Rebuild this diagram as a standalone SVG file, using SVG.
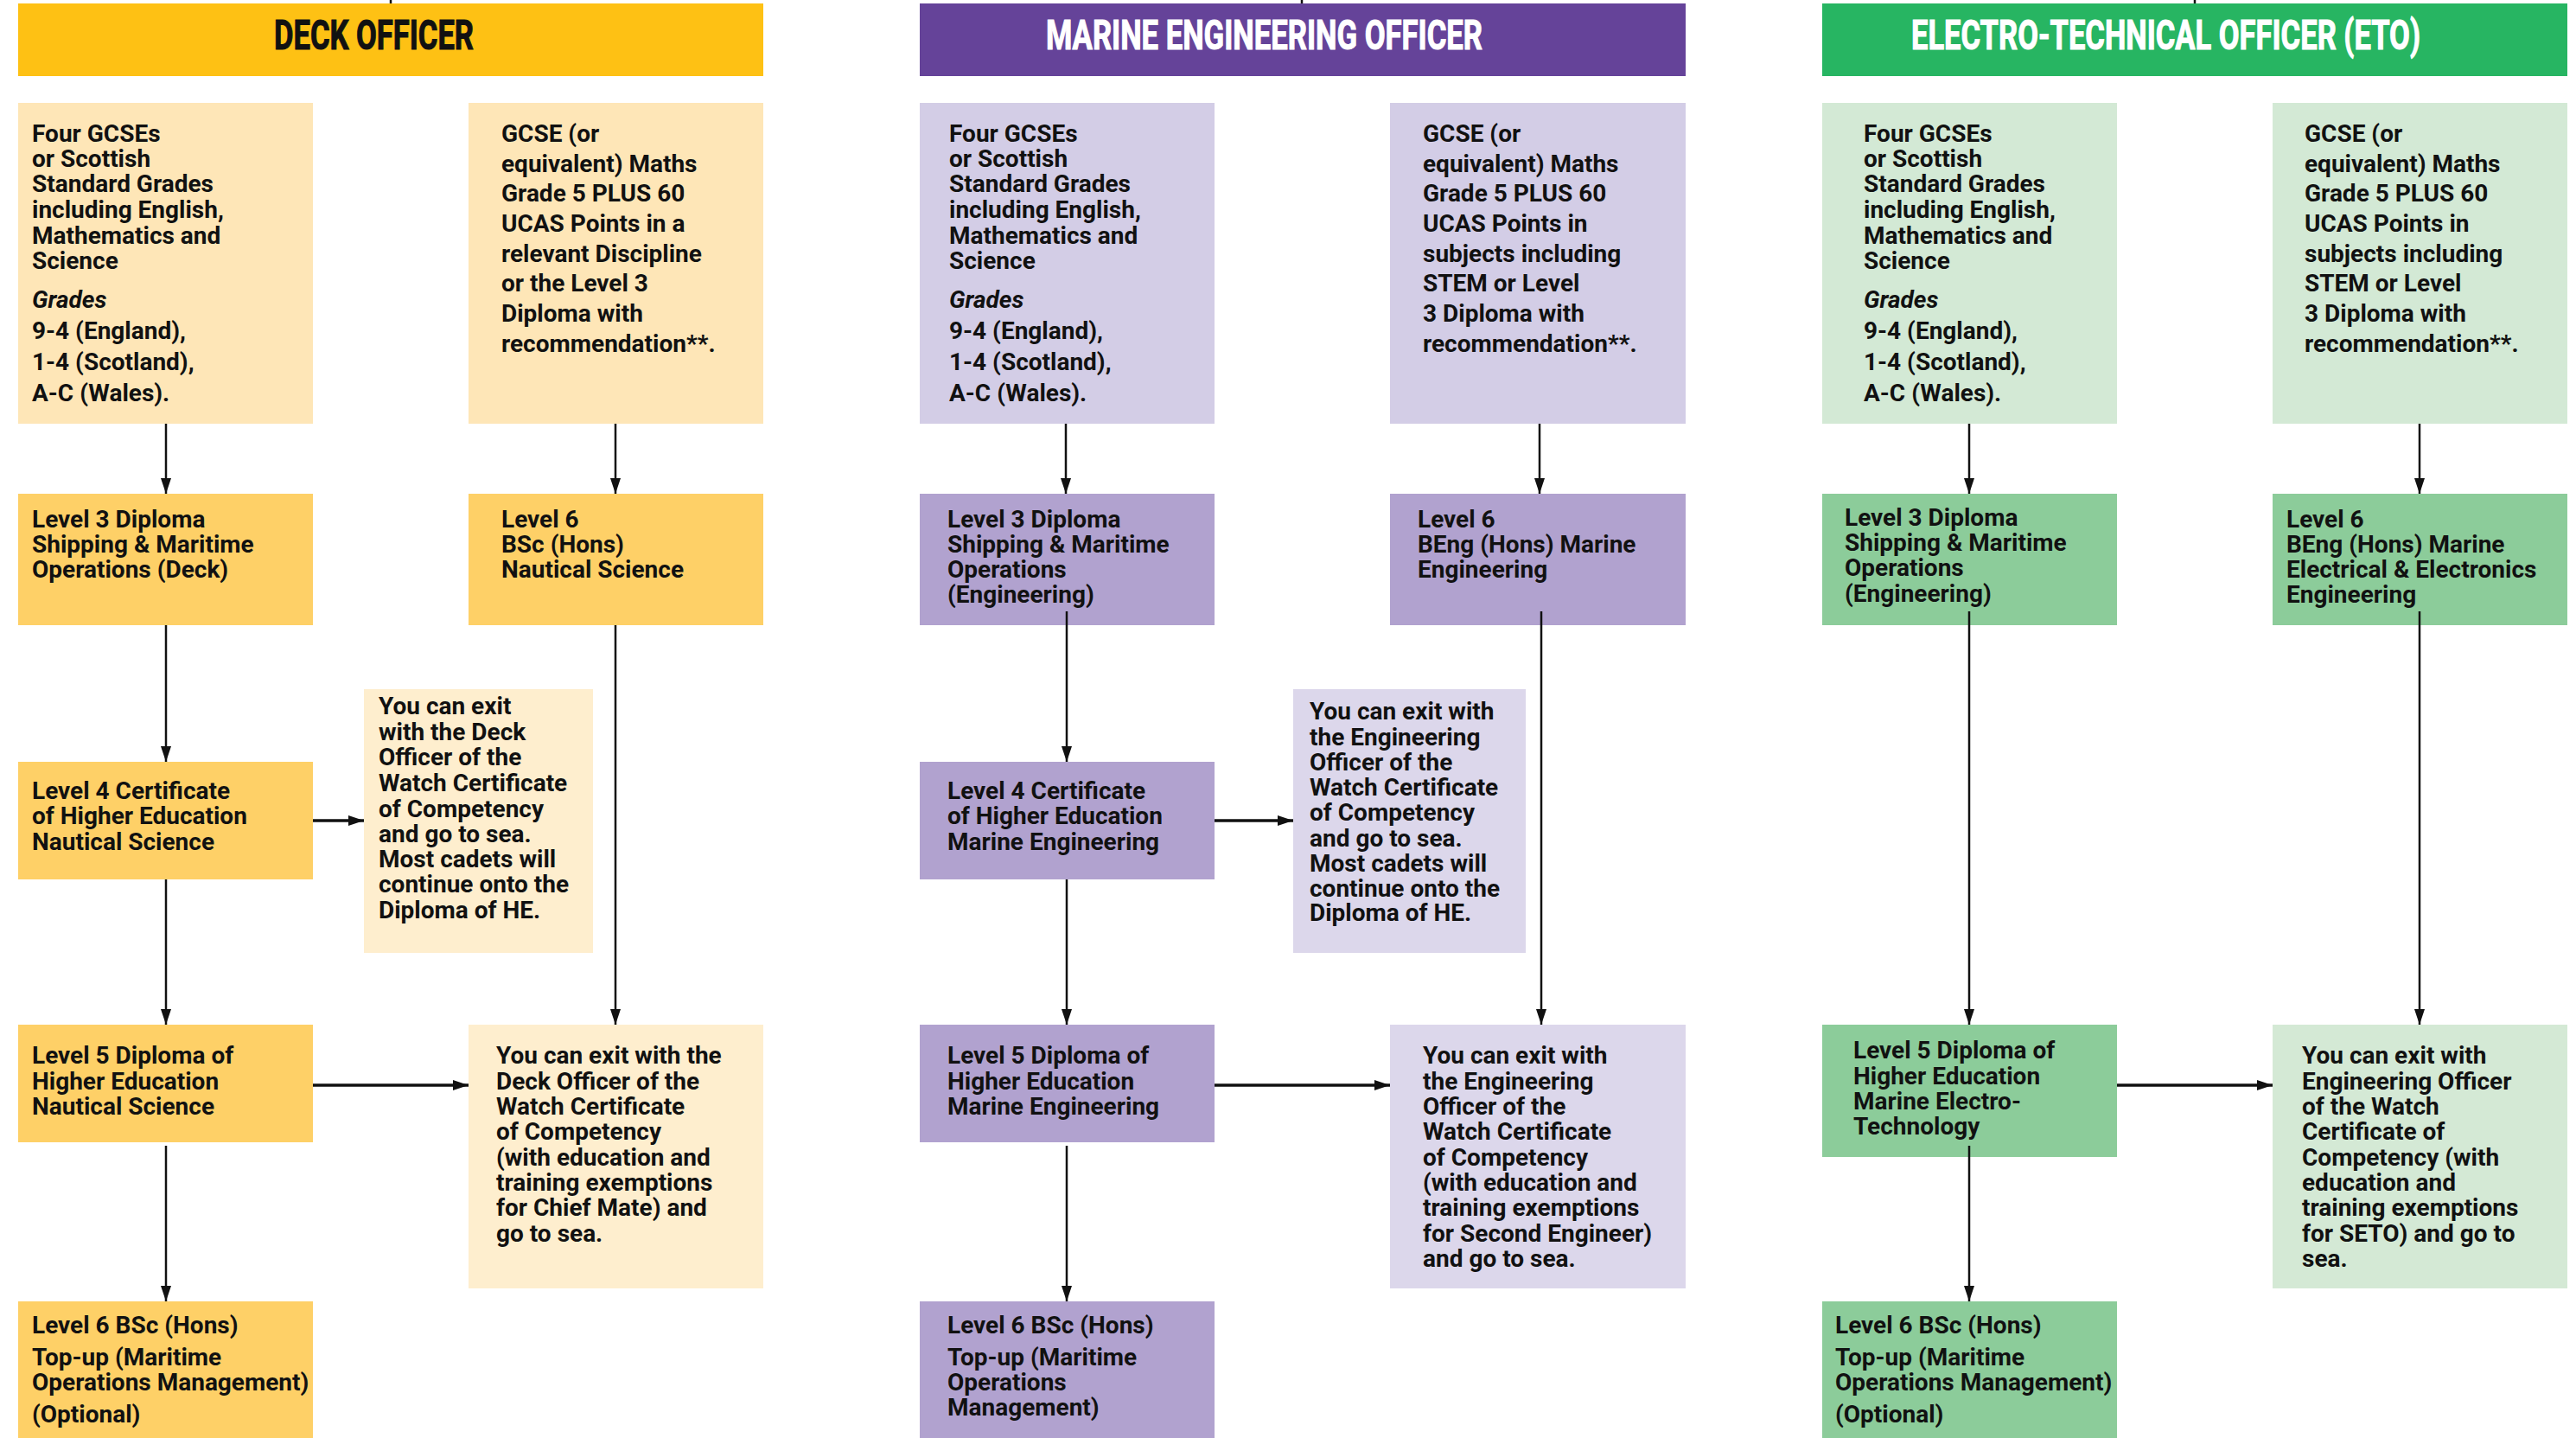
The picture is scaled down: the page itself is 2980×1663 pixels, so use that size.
<svg xmlns="http://www.w3.org/2000/svg" width="2980" height="1663" viewBox="0 0 2980 1663">
<style>
text{font-family:Roboto,"Liberation Sans",sans-serif;font-weight:700;font-size:28px;fill:#111}
.hd{font-size:30px;stroke:#111;stroke-width:0.7}
.hw{fill:#fff;stroke:#fff}
.it{font-style:italic}
.ln{stroke:#111;stroke-width:2.5;fill:none}
.lh{stroke:#111;stroke-width:3.5;fill:none}
.dH{fill:#FEC114}.dR{fill:#FEE6B7}.dL{fill:#FED067}.dE{fill:#FEEECE}
.mH{fill:#654399}.mR{fill:#D3CDE6}.mL{fill:#B1A2CF}.mE{fill:#DCD7EB}
.eH{fill:#27B562}.eR{fill:#D3E9D5}.eL{fill:#8CCC9A}.eE{fill:#D4E9D5}
</style>
<defs>
<marker id="ah" markerUnits="userSpaceOnUse" markerWidth="18" markerHeight="12" refX="18" refY="6" orient="auto">
<path d="M0,0 L18,6 L0,12 z" fill="#111"/>
</marker>
</defs>
<rect width="2980" height="1663" fill="#fff"/>

<!-- DECK OFFICER -->
<g id="deck-header"><rect class="dH" x="21" y="4" width="862" height="84"/><text class="hd" x="0" y="0" transform="translate(317,57) scale(1,1.6)" textLength="231" lengthAdjust="spacingAndGlyphs">DECK OFFICER</text></g>
<g id="deck-req1"><rect class="dR" x="21" y="119" width="341" height="371"/>
<text><tspan x="37" y="164">Four GCSEs</tspan><tspan x="37" y="193">or Scottish</tspan><tspan x="37" y="222">Standard Grades</tspan><tspan x="37" y="252">including English,</tspan><tspan x="37" y="282">Mathematics and</tspan><tspan x="37" y="311">Science</tspan><tspan x="37" y="356" class="it">Grades</tspan><tspan x="37" y="392">9-4 (England),</tspan><tspan x="37" y="428">1-4 (Scotland),</tspan><tspan x="37" y="464">A-C (Wales).</tspan></text></g>
<g id="deck-req2"><rect class="dR" x="542" y="119" width="341" height="371"/>
<text><tspan x="580" y="164">GCSE (or</tspan><tspan x="580" y="199">equivalent) Maths</tspan><tspan x="580" y="233">Grade 5 PLUS 60</tspan><tspan x="580" y="268">UCAS Points in a</tspan><tspan x="580" y="303">relevant Discipline</tspan><tspan x="580" y="337">or the Level 3</tspan><tspan x="580" y="372">Diploma with</tspan><tspan x="580" y="407">recommendation**.</tspan></text></g>
<g id="deck-l3"><rect class="dL" x="21" y="571" width="341" height="152"/>
<text><tspan x="37" y="610">Level 3 Diploma</tspan><tspan x="37" y="639">Shipping &amp; Maritime</tspan><tspan x="37" y="668">Operations (Deck)</tspan></text></g>
<g id="deck-l6"><rect class="dL" x="542" y="571" width="341" height="152"/>
<text><tspan x="580" y="610">Level 6</tspan><tspan x="580" y="639">BSc (Hons)</tspan><tspan x="580" y="668">Nautical Science</tspan></text></g>
<g id="deck-l4"><rect class="dL" x="21" y="881" width="341" height="136"/>
<text><tspan x="37" y="924">Level 4 Certificate</tspan><tspan x="37" y="953">of Higher Education</tspan><tspan x="37" y="983">Nautical Science</tspan></text></g>
<g id="deck-exit1"><rect class="dE" x="421" y="797" width="265" height="305"/>
<text><tspan x="438" y="826">You can exit</tspan><tspan x="438" y="856">with the Deck</tspan><tspan x="438" y="885">Officer of the</tspan><tspan x="438" y="915">Watch Certificate</tspan><tspan x="438" y="945">of Competency</tspan><tspan x="438" y="974">and go to sea.</tspan><tspan x="438" y="1003">Most cadets will</tspan><tspan x="438" y="1032">continue onto the</tspan><tspan x="438" y="1062">Diploma of HE.</tspan></text></g>
<g id="deck-l5"><rect class="dL" x="21" y="1185" width="341" height="136"/>
<text><tspan x="37" y="1230">Level 5 Diploma of</tspan><tspan x="37" y="1260">Higher Education</tspan><tspan x="37" y="1289">Nautical Science</tspan></text></g>
<g id="deck-exit2"><rect class="dE" x="542" y="1185" width="341" height="305"/>
<text><tspan x="574" y="1230">You can exit with the</tspan><tspan x="574" y="1260">Deck Officer of the</tspan><tspan x="574" y="1289">Watch Certificate</tspan><tspan x="574" y="1318">of Competency</tspan><tspan x="574" y="1348">(with education and</tspan><tspan x="574" y="1377">training exemptions</tspan><tspan x="574" y="1406">for Chief Mate) and</tspan><tspan x="574" y="1436">go to sea.</tspan></text></g>
<g id="deck-topup"><rect class="dL" x="21" y="1505" width="341" height="158"/>
<text><tspan x="37" y="1542">Level 6 BSc (Hons)</tspan><tspan x="37" y="1579">Top-up (Maritime</tspan><tspan x="37" y="1608">Operations Management)</tspan><tspan x="37" y="1645">(Optional)</tspan></text></g>

<!-- MARINE ENGINEERING OFFICER -->
<g id="mar-header"><rect class="mH" x="1064" y="4" width="886" height="84"/><text class="hd hw" x="0" y="0" transform="translate(1210,57) scale(1,1.6)" textLength="505" lengthAdjust="spacingAndGlyphs">MARINE ENGINEERING OFFICER</text></g>
<g id="mar-req1"><rect class="mR" x="1064" y="119" width="341" height="371"/>
<text><tspan x="1098" y="164">Four GCSEs</tspan><tspan x="1098" y="193">or Scottish</tspan><tspan x="1098" y="222">Standard Grades</tspan><tspan x="1098" y="252">including English,</tspan><tspan x="1098" y="282">Mathematics and</tspan><tspan x="1098" y="311">Science</tspan><tspan x="1098" y="356" class="it">Grades</tspan><tspan x="1098" y="392">9-4 (England),</tspan><tspan x="1098" y="428">1-4 (Scotland),</tspan><tspan x="1098" y="464">A-C (Wales).</tspan></text></g>
<g id="mar-req2"><rect class="mR" x="1608" y="119" width="342" height="371"/>
<text><tspan x="1646" y="164">GCSE (or</tspan><tspan x="1646" y="199">equivalent) Maths</tspan><tspan x="1646" y="233">Grade 5 PLUS 60</tspan><tspan x="1646" y="268">UCAS Points in</tspan><tspan x="1646" y="303">subjects including</tspan><tspan x="1646" y="337">STEM or Level</tspan><tspan x="1646" y="372">3 Diploma with</tspan><tspan x="1646" y="407">recommendation**.</tspan></text></g>
<g id="mar-l3"><rect class="mL" x="1064" y="571" width="341" height="152"/>
<text><tspan x="1096" y="610">Level 3 Diploma</tspan><tspan x="1096" y="639">Shipping &amp; Maritime</tspan><tspan x="1096" y="668">Operations</tspan><tspan x="1096" y="697">(Engineering)</tspan></text></g>
<g id="mar-l6"><rect class="mL" x="1608" y="571" width="342" height="152"/>
<text><tspan x="1640" y="610">Level 6</tspan><tspan x="1640" y="639">BEng (Hons) Marine</tspan><tspan x="1640" y="668">Engineering</tspan></text></g>
<g id="mar-l4"><rect class="mL" x="1064" y="881" width="341" height="136"/>
<text><tspan x="1096" y="924">Level 4 Certificate</tspan><tspan x="1096" y="953">of Higher Education</tspan><tspan x="1096" y="983">Marine Engineering</tspan></text></g>
<g id="mar-exit1"><rect class="mE" x="1496" y="797" width="269" height="305"/>
<text><tspan x="1515" y="832">You can exit with</tspan><tspan x="1515" y="862">the Engineering</tspan><tspan x="1515" y="891">Officer of the</tspan><tspan x="1515" y="920">Watch Certificate</tspan><tspan x="1515" y="949">of Competency</tspan><tspan x="1515" y="979">and go to sea.</tspan><tspan x="1515" y="1008">Most cadets will</tspan><tspan x="1515" y="1037">continue onto the</tspan><tspan x="1515" y="1065">Diploma of HE.</tspan></text></g>
<g id="mar-l5"><rect class="mL" x="1064" y="1185" width="341" height="136"/>
<text><tspan x="1096" y="1230">Level 5 Diploma of</tspan><tspan x="1096" y="1260">Higher Education</tspan><tspan x="1096" y="1289">Marine Engineering</tspan></text></g>
<g id="mar-exit2"><rect class="mE" x="1608" y="1185" width="342" height="305"/>
<text><tspan x="1646" y="1230">You can exit with</tspan><tspan x="1646" y="1260">the Engineering</tspan><tspan x="1646" y="1289">Officer of the</tspan><tspan x="1646" y="1318">Watch Certificate</tspan><tspan x="1646" y="1348">of Competency</tspan><tspan x="1646" y="1377">(with education and</tspan><tspan x="1646" y="1406">training exemptions</tspan><tspan x="1646" y="1436">for Second Engineer)</tspan><tspan x="1646" y="1465">and go to sea.</tspan></text></g>
<g id="mar-topup"><rect class="mL" x="1064" y="1505" width="341" height="158"/>
<text><tspan x="1096" y="1542">Level 6 BSc (Hons)</tspan><tspan x="1096" y="1579">Top-up (Maritime</tspan><tspan x="1096" y="1608">Operations</tspan><tspan x="1096" y="1637">Management)</tspan></text></g>

<!-- ELECTRO-TECHNICAL OFFICER -->
<g id="eto-header"><rect class="eH" x="2108" y="4" width="862" height="84"/><text class="hd hw" x="0" y="0" transform="translate(2211,57) scale(1,1.6)" textLength="589" lengthAdjust="spacingAndGlyphs">ELECTRO-TECHNICAL OFFICER (ETO)</text></g>
<g id="eto-req1"><rect class="eR" x="2108" y="119" width="341" height="371"/>
<text><tspan x="2156" y="164">Four GCSEs</tspan><tspan x="2156" y="193">or Scottish</tspan><tspan x="2156" y="222">Standard Grades</tspan><tspan x="2156" y="252">including English,</tspan><tspan x="2156" y="282">Mathematics and</tspan><tspan x="2156" y="311">Science</tspan><tspan x="2156" y="356" class="it">Grades</tspan><tspan x="2156" y="392">9-4 (England),</tspan><tspan x="2156" y="428">1-4 (Scotland),</tspan><tspan x="2156" y="464">A-C (Wales).</tspan></text></g>
<g id="eto-req2"><rect class="eR" x="2629" y="119" width="341" height="371"/>
<text><tspan x="2666" y="164">GCSE (or</tspan><tspan x="2666" y="199">equivalent) Maths</tspan><tspan x="2666" y="233">Grade 5 PLUS 60</tspan><tspan x="2666" y="268">UCAS Points in</tspan><tspan x="2666" y="303">subjects including</tspan><tspan x="2666" y="337">STEM or Level</tspan><tspan x="2666" y="372">3 Diploma with</tspan><tspan x="2666" y="407">recommendation**.</tspan></text></g>
<g id="eto-l3"><rect class="eL" x="2108" y="571" width="341" height="152"/>
<text><tspan x="2134" y="608">Level 3 Diploma</tspan><tspan x="2134" y="637">Shipping &amp; Maritime</tspan><tspan x="2134" y="666">Operations</tspan><tspan x="2134" y="696">(Engineering)</tspan></text></g>
<g id="eto-l6"><rect class="eL" x="2629" y="571" width="341" height="152"/>
<text><tspan x="2645" y="610">Level 6</tspan><tspan x="2645" y="639">BEng (Hons) Marine</tspan><tspan x="2645" y="668">Electrical &amp; Electronics</tspan><tspan x="2645" y="697">Engineering</tspan></text></g>
<g id="eto-l5"><rect class="eL" x="2108" y="1185" width="341" height="153"/>
<text><tspan x="2144" y="1224">Level 5 Diploma of</tspan><tspan x="2144" y="1254">Higher Education</tspan><tspan x="2144" y="1283">Marine Electro-</tspan><tspan x="2144" y="1312">Technology</tspan></text></g>
<g id="eto-exit"><rect class="eE" x="2629" y="1185" width="341" height="305"/>
<text><tspan x="2663" y="1230">You can exit with</tspan><tspan x="2663" y="1260">Engineering Officer</tspan><tspan x="2663" y="1289">of the Watch</tspan><tspan x="2663" y="1318">Certificate of</tspan><tspan x="2663" y="1348">Competency (with</tspan><tspan x="2663" y="1377">education and</tspan><tspan x="2663" y="1406">training exemptions</tspan><tspan x="2663" y="1436">for SETO) and go to</tspan><tspan x="2663" y="1465">sea.</tspan></text></g>
<g id="eto-topup"><rect class="eL" x="2108" y="1505" width="341" height="158"/>
<text><tspan x="2123" y="1542">Level 6 BSc (Hons)</tspan><tspan x="2123" y="1579">Top-up (Maritime</tspan><tspan x="2123" y="1608">Operations Management)</tspan><tspan x="2123" y="1645">(Optional)</tspan></text></g>

<g id="connectors">
<line class="ln" x1="452" y1="0" x2="452" y2="4"/>
<line class="ln" x1="1506" y1="0" x2="1506" y2="4"/>
<line class="ln" x1="2539" y1="0" x2="2539" y2="4"/>
<!-- deck -->
<line class="ln" x1="192" y1="490" x2="192" y2="571" marker-end="url(#ah)"/>
<line class="ln" x1="712" y1="490" x2="712" y2="571" marker-end="url(#ah)"/>
<line class="ln" x1="192" y1="723" x2="192" y2="881" marker-end="url(#ah)"/>
<line class="ln" x1="712" y1="723" x2="712" y2="1185" marker-end="url(#ah)"/>
<line class="ln" x1="192" y1="1017" x2="192" y2="1185" marker-end="url(#ah)"/>
<line class="ln" x1="192" y1="1325" x2="192" y2="1505" marker-end="url(#ah)"/>
<line class="lh" x1="362" y1="949" x2="421" y2="949" marker-end="url(#ah)"/>
<line class="lh" x1="362" y1="1255" x2="542" y2="1255" marker-end="url(#ah)"/>
<!-- marine -->
<line class="ln" x1="1233" y1="490" x2="1233" y2="571" marker-end="url(#ah)"/>
<line class="ln" x1="1781" y1="490" x2="1781" y2="571" marker-end="url(#ah)"/>
<line class="ln" x1="1234" y1="707" x2="1234" y2="881" marker-end="url(#ah)"/>
<line class="ln" x1="1783" y1="707" x2="1783" y2="1185" marker-end="url(#ah)"/>
<line class="ln" x1="1234" y1="1017" x2="1234" y2="1185" marker-end="url(#ah)"/>
<line class="ln" x1="1234" y1="1325" x2="1234" y2="1505" marker-end="url(#ah)"/>
<line class="lh" x1="1405" y1="949" x2="1496" y2="949" marker-end="url(#ah)"/>
<line class="lh" x1="1405" y1="1255" x2="1608" y2="1255" marker-end="url(#ah)"/>
<!-- eto -->
<line class="ln" x1="2278" y1="490" x2="2278" y2="571" marker-end="url(#ah)"/>
<line class="ln" x1="2799" y1="490" x2="2799" y2="571" marker-end="url(#ah)"/>
<line class="ln" x1="2278" y1="707" x2="2278" y2="1185" marker-end="url(#ah)"/>
<line class="ln" x1="2799" y1="707" x2="2799" y2="1185" marker-end="url(#ah)"/>
<line class="ln" x1="2278" y1="1325" x2="2278" y2="1505" marker-end="url(#ah)"/>
<line class="lh" x1="2449" y1="1255" x2="2629" y2="1255" marker-end="url(#ah)"/>
</g>
</svg>
